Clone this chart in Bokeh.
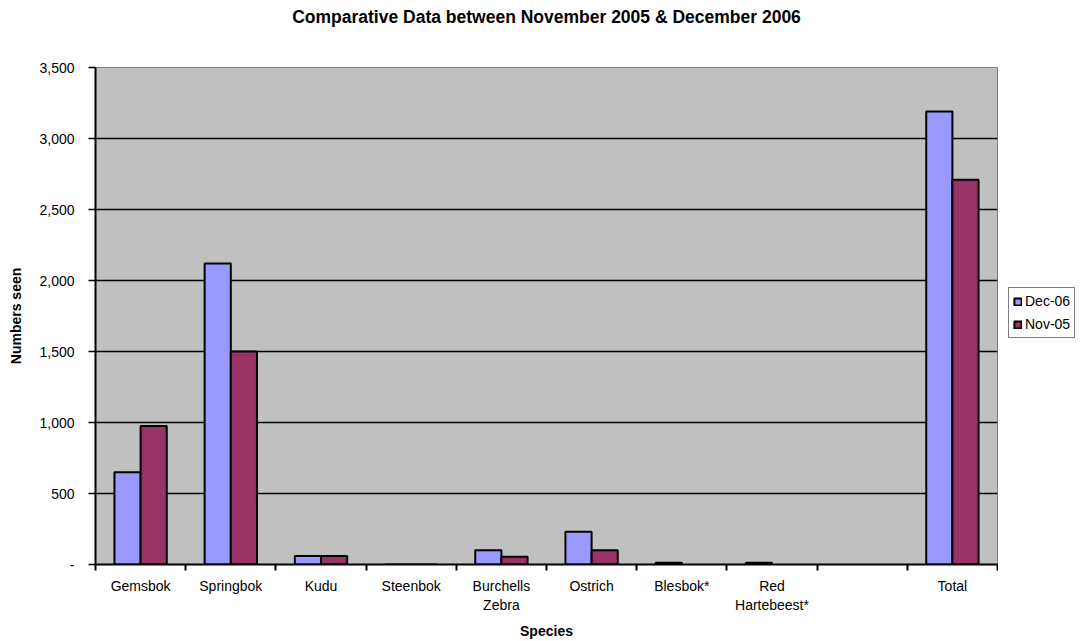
import numpy as np
from bokeh.plotting import figure
from bokeh.layouts import row
from bokeh.models import (Range1d, FixedTicker, Legend, LegendItem, NumeralTickFormatter,
                          ColumnDataSource, Title)
from bokeh.embed import file_html
from bokeh.resources import INLINE

# ---- data ----
categories = ["Gemsbok", "Springbok", "Kudu", "Steenbok", "Burchells\nZebra", "Ostrich",
              "Blesbok*", "Red\nHartebeest*", "", "Total"]
dec06 = [650, 2120, 60, 0, 100, 230, 12, 12, np.nan, 3190]
nov05 = [975, 1500, 60, 0, 55, 100, np.nan, np.nan, np.nan, 2710]
series_names = ["Dec-06", "Nov-05"]
series_colors = ["#9999FF", "#993366"]
y_ticks = [0, 500, 1000, 1500, 2000, 2500, 3000, 3500]
title_text = "Comparative Data between November 2005 & December 2006"

FONT = "Liberation Sans"
n = len(categories)
centers = np.arange(n) + 0.5
bar_w = 0.29

src = ColumnDataSource(dict(
    x1=centers - bar_w / 2, x2=centers + bar_w / 2,
    dec06=dec06, nov05=nov05))

p = figure(width=998, height=641,
           x_range=Range1d(0, n), y_range=Range1d(0, 3500),
           output_backend="svg", toolbar_location=None,
           title_location=None,
           min_border_left=95, min_border_right=1,
           min_border_top=0, min_border_bottom=77,
           background_fill_color="#C0C0C0", border_fill_color="white")

p.outline_line_color = "#808080"
p.outline_line_width = 1

# title (spacer next to the frame, then the real title above it)
p.add_layout(Title(text=" ", text_font_size="2px", standoff=33), "above")
p.add_layout(Title(text=title_text, align="center", text_font=FONT,
                   text_font_size="17.5px", text_font_style="bold",
                   text_color="black", standoff=8), "above")

# bars
r1 = p.vbar(x="x1", top="dec06", width=bar_w, bottom=0, source=src,
            fill_color=series_colors[0], line_color="black", line_width=2)
r2 = p.vbar(x="x2", top="nov05", width=bar_w, bottom=0, source=src,
            fill_color=series_colors[1], line_color="black", line_width=2)

# grid
p.xgrid.grid_line_color = None
p.ygrid.grid_line_color = "black"
p.ygrid.grid_line_width = 1.5
p.ygrid.ticker = FixedTicker(ticks=y_ticks)

# y axis
ya = p.yaxis[0]
ya.ticker = FixedTicker(ticks=y_ticks)
ya.formatter = NumeralTickFormatter(format="0,0")
ya.major_label_overrides = {0: "-"}
ya.axis_line_color = "black"
ya.axis_line_width = 2
ya.major_tick_line_color = "black"
ya.major_tick_line_width = 1.5
ya.major_tick_in = 0
ya.major_tick_out = 7
ya.minor_tick_line_color = None
ya.major_label_standoff = 14
ya.major_label_text_font = FONT
ya.major_label_text_font_size = "14px"
ya.major_label_text_color = "black"
ya.axis_label = "Numbers seen"
ya.axis_label_text_font = FONT
ya.axis_label_text_font_size = "14px"
ya.axis_label_text_font_style = "bold"
ya.axis_label_text_color = "black"
ya.axis_label_standoff = 12

# x axis
xa = p.xaxis[0]
xa.ticker = FixedTicker(ticks=list(centers), minor_ticks=list(range(n + 1)))
xa.major_label_overrides = {float(c): lab for c, lab in zip(centers, categories)}
xa.axis_line_color = "black"
xa.axis_line_width = 2
xa.major_tick_line_color = None
xa.major_tick_in = 0
xa.major_tick_out = 0
xa.minor_tick_line_color = "black"
xa.minor_tick_line_width = 2
xa.minor_tick_in = 0
xa.minor_tick_out = 6
xa.major_label_standoff = 7
xa.major_label_text_font = FONT
xa.major_label_text_font_size = "14px"
xa.major_label_text_color = "black"
xa.axis_label = "Species"
xa.axis_label_text_font = FONT
xa.axis_label_text_font_size = "14px"
xa.axis_label_text_font_style = "bold"
xa.axis_label_text_color = "black"
xa.axis_label_standoff = 7

# legend lives in a narrow companion figure to the right; its proxy renderers
# share the same data but are hidden (legend still draws their swatches)
pl = figure(width=85, height=641, x_range=Range1d(0, 1), y_range=Range1d(-2, -1),
            output_backend="svg", toolbar_location=None,
            x_axis_location=None, y_axis_location=None,
            min_border=0, border_fill_color="white", background_fill_color="white")
pl.outline_line_color = None
pl.xgrid.grid_line_color = None
pl.ygrid.grid_line_color = None
lr1 = pl.vbar(x="x1", top="dec06", width=bar_w, bottom=0, source=src,
              fill_color=series_colors[0], line_color="black", line_width=2)
lr2 = pl.vbar(x="x2", top="nov05", width=bar_w, bottom=0, source=src,
              fill_color=series_colors[1], line_color="black", line_width=2)
lr1.visible = False
lr2.visible = False

legend = Legend(items=[LegendItem(label=series_names[0], renderers=[lr1]),
                       LegendItem(label=series_names[1], renderers=[lr2])],
                location=(10, 226))
legend.border_line_color = "black"
legend.border_line_width = 1.5
legend.background_fill_color = "white"
legend.inactive_fill_alpha = 0
legend.label_text_font = FONT
legend.label_text_font_size = "14px"
legend.label_text_color = "black"
legend.glyph_width = 9
legend.glyph_height = 9
legend.label_standoff = 3
legend.label_height = 18
legend.spacing = 5
legend.padding = 4
legend.margin = 0
pl.add_layout(legend, "center")

layout = row(p, pl)
open("out.html", "w").write(file_html(layout, INLINE))
